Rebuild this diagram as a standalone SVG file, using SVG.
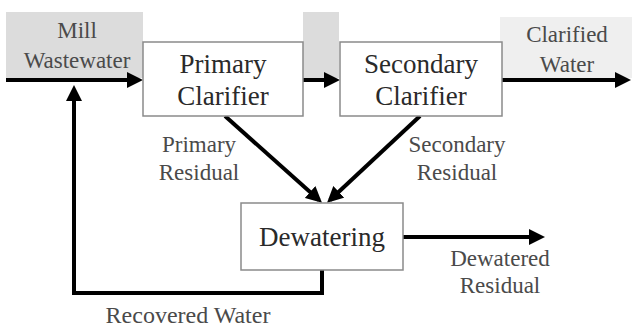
<svg xmlns="http://www.w3.org/2000/svg" width="632" height="327" viewBox="0 0 632 327">
<defs>
<marker id="ah" markerUnits="userSpaceOnUse" markerWidth="16" markerHeight="16" refX="12" refY="8" orient="auto" viewBox="0 0 16 16">
<path d="M0,0 L16,8 L0,16 z" fill="#000"/>
</marker>
</defs>
<style>
text{font-family:"Liberation Serif","Times New Roman",serif;text-anchor:middle}
.box{fill:#fff;stroke:#8a8a8a;stroke-width:1.5}
.big{font-size:27px;fill:#2a2a2a}
.lbl{font-size:23px;fill:#4a4a4a}
.c{fill:none;stroke:#000;stroke-width:4}
</style>
<rect x="6" y="12" width="137" height="66" fill="#dcdcdc"/>
<rect x="303" y="12" width="36" height="66" fill="#dcdcdc"/>
<rect x="500" y="17" width="132" height="61" fill="#efefef"/>
<g id="connectors">
<line class="c" x1="6" y1="80" x2="139" y2="80" marker-end="url(#ah)"/>
<line class="c" x1="303" y1="80" x2="336" y2="80" marker-end="url(#ah)"/>
<line class="c" x1="502" y1="80" x2="627" y2="80" marker-end="url(#ah)"/>
<line class="c" x1="225" y1="116" x2="319" y2="200" marker-end="url(#ah)"/>
<line class="c" x1="420" y1="116" x2="330" y2="200" marker-end="url(#ah)"/>
<line class="c" x1="403" y1="237" x2="541" y2="237" marker-end="url(#ah)"/>
<polyline class="c" points="322,270 322,293 74,293 74,89" marker-end="url(#ah)"/>
</g>
<g id="mill">
<text class="lbl" x="77" y="38">Mill</text>
<text class="lbl" x="77" y="68">Wastewater</text>
</g>
<g id="primary">
<rect class="box" x="143" y="42" width="160" height="74"/>
<text class="big" x="223" y="73">Primary</text>
<text class="big" x="223" y="105">Clarifier</text>
</g>
<g id="secondary">
<rect class="box" x="340" y="42" width="162" height="74"/>
<text class="big" x="421" y="73">Secondary</text>
<text class="big" x="421" y="105">Clarifier</text>
</g>
<g id="clarified">
<text class="lbl" x="567" y="42">Clarified</text>
<text class="lbl" x="567" y="72">Water</text>
</g>
<g id="dewatering">
<rect class="box" x="241" y="203" width="162" height="67"/>
<text class="big" x="322" y="246">Dewatering</text>
</g>
<g id="labels">
<text class="lbl" x="199" y="152">Primary</text>
<text class="lbl" x="199" y="180">Residual</text>
<text class="lbl" x="457" y="152">Secondary</text>
<text class="lbl" x="457" y="180">Residual</text>
<text class="lbl" x="500" y="266">Dewatered</text>
<text class="lbl" x="500" y="293">Residual</text>
<text class="lbl" x="188" y="323" style="font-size:24px">Recovered Water</text>
</g>
</svg>
